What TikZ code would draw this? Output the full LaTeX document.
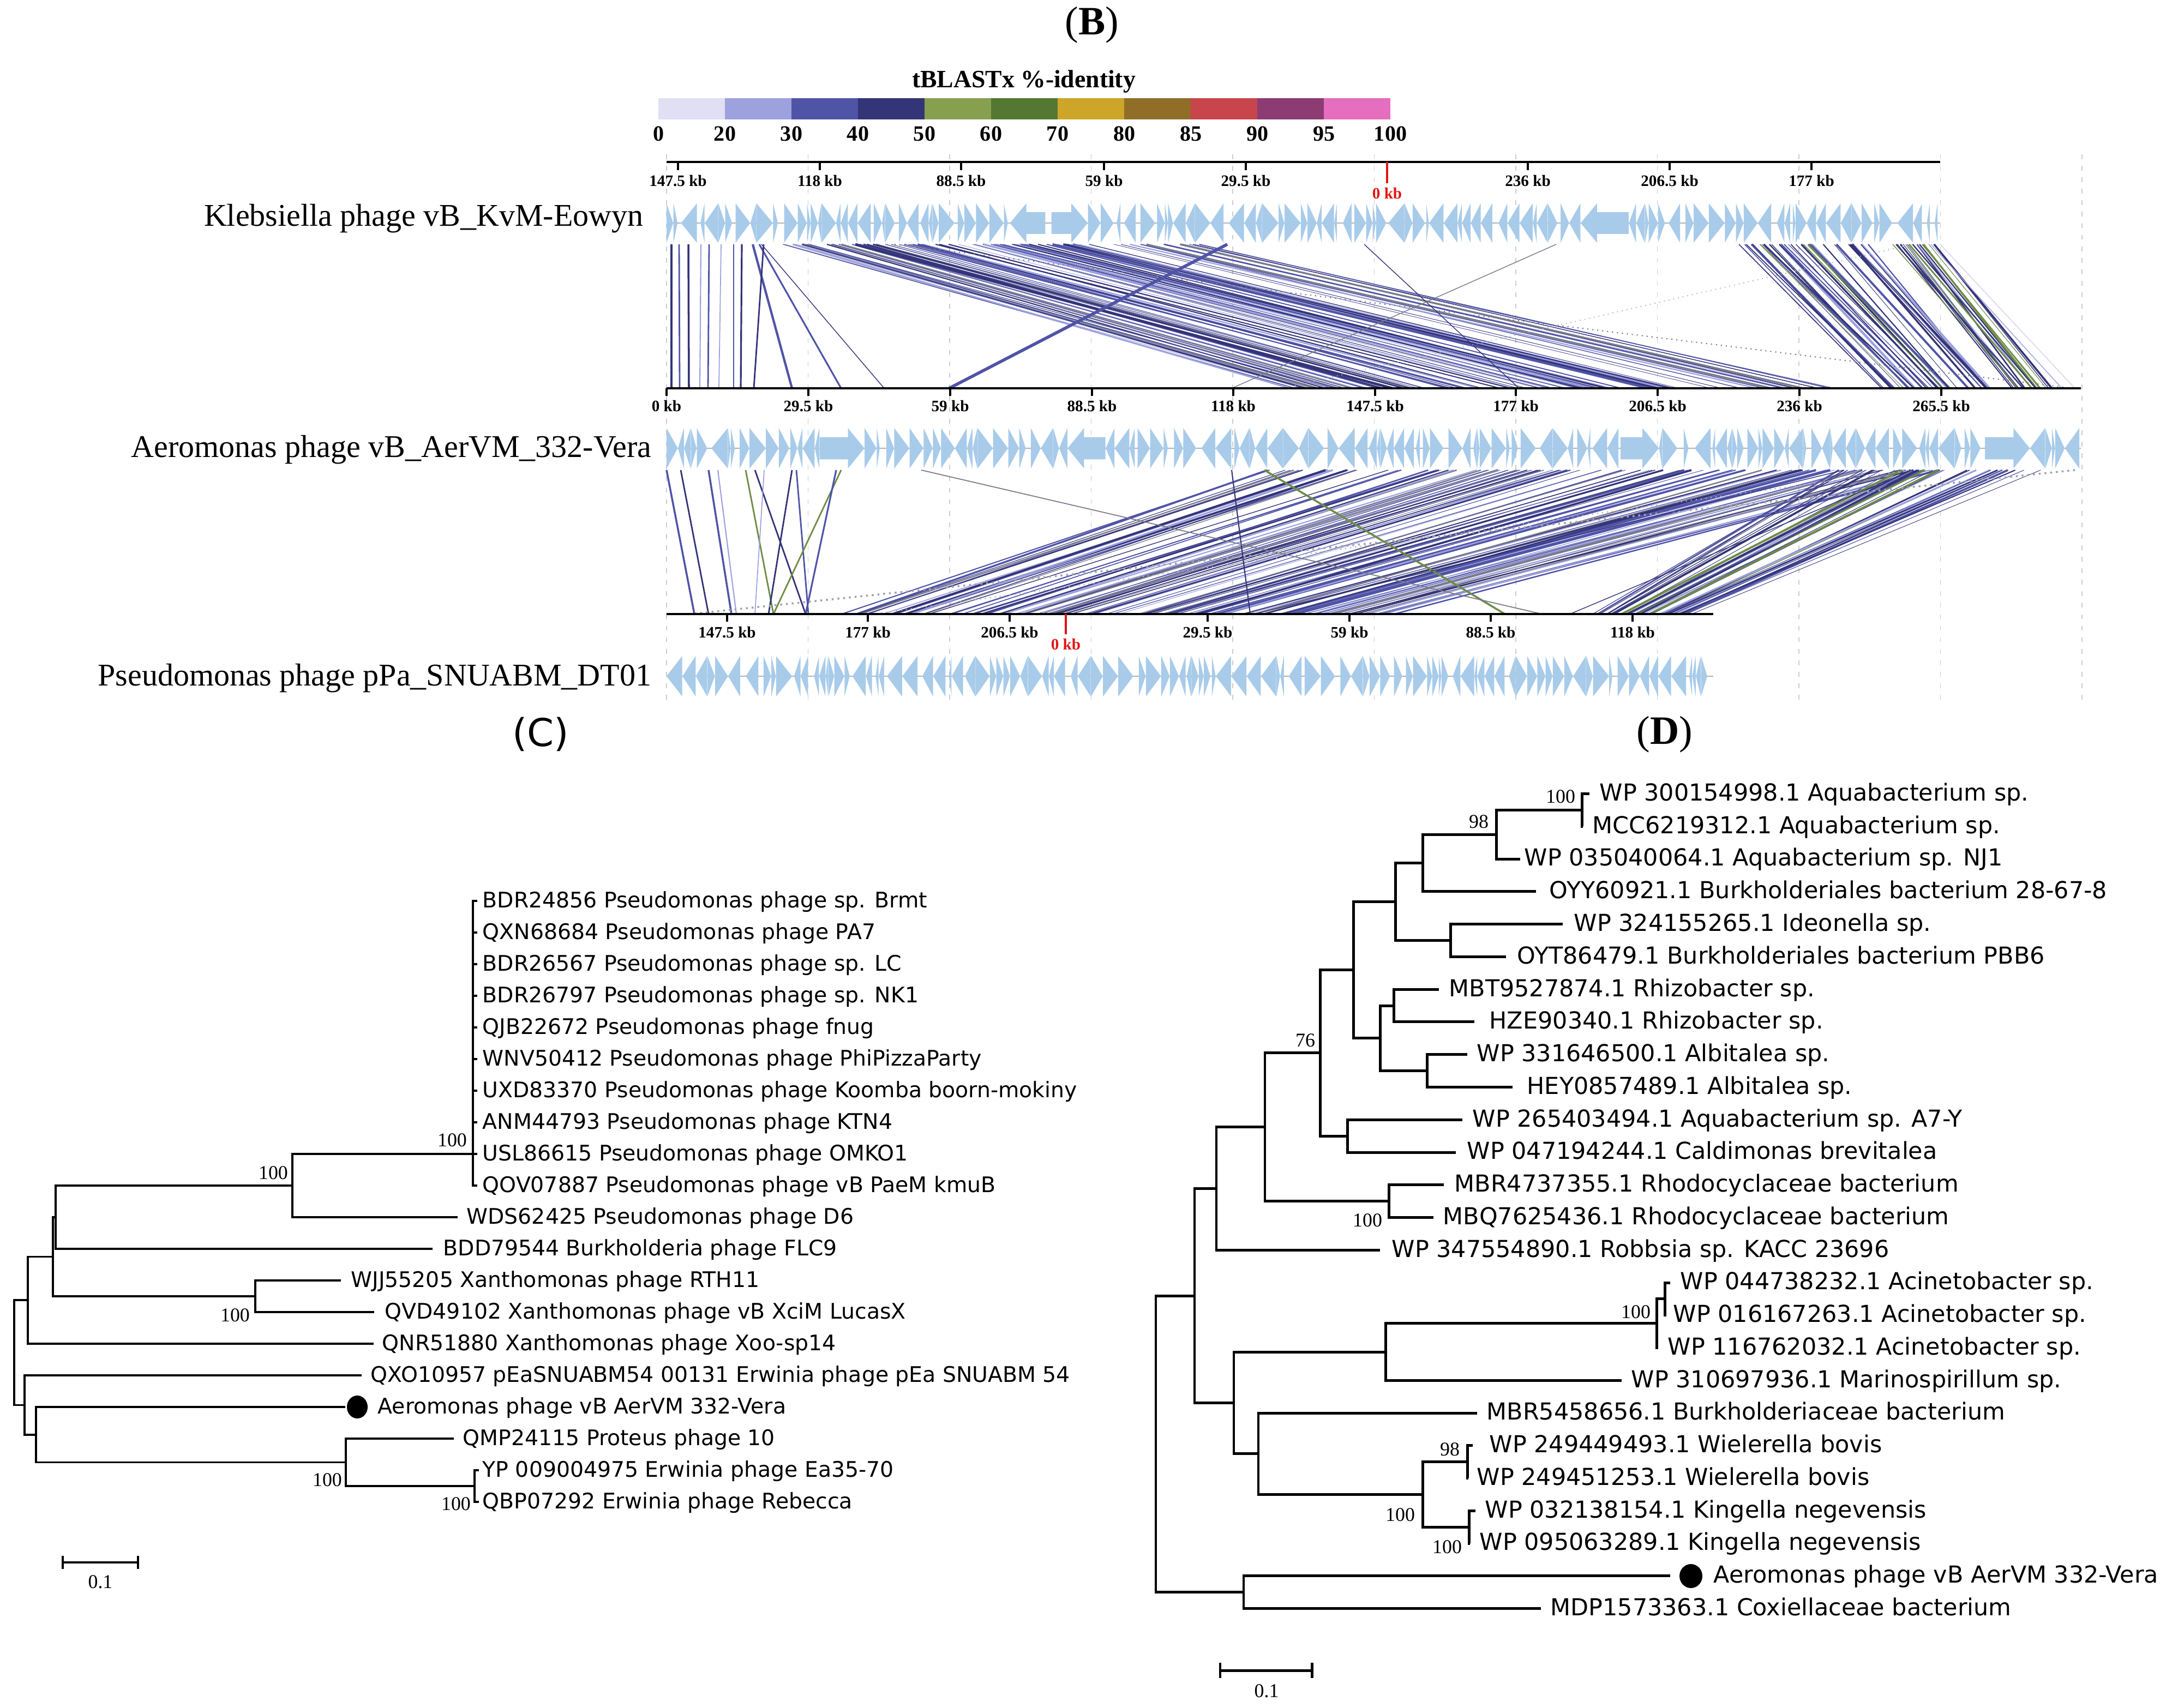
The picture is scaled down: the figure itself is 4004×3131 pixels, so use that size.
\documentclass[tikz,border=0pt]{standalone}
\usepackage{fontspec}
\usetikzlibrary{calc}
\setmainfont{Liberation Serif}
\newfontfamily\treefont{DejaVu Sans}
\definecolor{cb1}{RGB}{224,223,243}
\definecolor{cb2}{RGB}{157,161,222}
\definecolor{cb3}{RGB}{80,84,167}
\definecolor{cb4}{RGB}{52,52,120}
\definecolor{cb5}{RGB}{135,160,80}
\definecolor{cb6}{RGB}{84,120,50}
\definecolor{cb7}{RGB}{205,165,40}
\definecolor{cb8}{RGB}{145,110,40}
\definecolor{cb9}{RGB}{200,70,75}
\definecolor{cb10}{RGB}{140,60,115}
\definecolor{cb11}{RGB}{230,110,190}
\definecolor{genec}{RGB}{168,203,234}
\definecolor{kbred}{RGB}{228,20,20}
\definecolor{gridc}{RGB}{205,205,205}
\definecolor{rgray}{RGB}{120,122,140}
\definecolor{rgreen}{RGB}{110,140,70}
\pgfmathdeclarerandomlist{ribA}{{cb3}{cb3}{cb4}{cb2}{cb3}{cb4}{cb2}{rgray}}
\pgfmathdeclarerandomlist{ribB}{{cb3}{cb4}{cb4}{cb3}{rgreen}{cb2}{cb4}}
\newcommand\ribbons[9]{%
  \pgfmathsetseed{#1}%
  \foreach \rbK in {1,...,#2}{%
    \pgfmathsetmacro\rbR{rnd}%
    \pgfmathsetmacro\rbT{#5+\rbR*(#6-#5)}%
    \pgfmathsetmacro\rbB{#7+\rbR*(#8-#7)+(rnd-0.5)*#9}%
    \pgfmathsetmacro\rbW{0.25+1.2*rnd*rnd}%
    \pgfmathrandomitem{\rbC}{\riblist}%
    \draw[line width=\rbW pt, draw=\rbC] (\rbT,#3) -- (\rbB,#4);
  }%
}
\newcommand\genetrack[5]{%
  \pgfmathsetseed{#5}%
  \draw[genecore] (#1,#3) -- (#2,#3);
  \xdef\gnX{#1}%
  \xdef\gnD{1}%
  \loop
    \pgfmathsetmacro\gnW{4+26*rnd+((rnd<0.015)?60:0)}%
    \pgfmathsetmacro\gnE{\gnX+\gnW}%
  \ifdim\gnE pt<#2pt
    \pgfmathsetmacro\gnF{(rnd<0.35)?1:0}%
    \ifdim\gnF pt>0.5pt \pgfmathsetmacro\gnD{-1*\gnD}\xdef\gnD{\gnD}\fi
    \pgfmathsetmacro\gnA{min(\gnW,30)}%
    \ifdim\gnD pt>0pt
      \fill[genefill] (\gnX,#3-#4*0.55) -- (\gnE-\gnA,#3-#4*0.55) -- (\gnE-\gnA,#3-#4) -- (\gnE,#3) -- (\gnE-\gnA,#3+#4) -- (\gnE-\gnA,#3+#4*0.55) -- (\gnX,#3+#4*0.55) -- cycle;
    \else
      \fill[genefill] (\gnE,#3-#4*0.55) -- (\gnX+\gnA,#3-#4*0.55) -- (\gnX+\gnA,#3-#4) -- (\gnX,#3) -- (\gnX+\gnA,#3+#4) -- (\gnX+\gnA,#3+#4*0.55) -- (\gnE,#3+#4*0.55) -- cycle;
    \fi
    \pgfmathsetmacro\gnX{\gnE+((rnd<0.25)?(2+10*rnd):0.5)}\xdef\gnX{\gnX}%
  \repeat
}
\begin{document}
\begin{tikzpicture}[x=0.1mm,y=-0.1mm,
  brC/.style={line width=0.95pt},
  brD/.style={line width=1.4pt},
  leafC/.style={anchor=west, inner sep=0pt, font=\treefont\fontsize{11.2}{13}\selectfont, text height=0.73em, text depth=0pt},
  leafD/.style={anchor=west, inner sep=0pt, font=\treefont\fontsize{12.2}{14}\selectfont, text height=0.73em, text depth=0pt},
  boot/.style={inner sep=0pt, font=\fontsize{10.2}{12}\selectfont, text height=0.68em, text depth=0pt},
  kblab/.style={inner sep=0pt, font=\bfseries\fontsize{8.3}{10}\selectfont, text height=0.68em, text depth=0pt},
  cblab/.style={inner sep=0pt, font=\bfseries\fontsize{11.4}{13}\selectfont, text height=0.68em, text depth=0pt},
  gname/.style={anchor=east, inner sep=0pt, font=\fontsize{16.5}{19}\selectfont, text height=0.66em, text depth=0pt},
  panel/.style={inner sep=0pt, font=\fontsize{21}{24}\selectfont},
  axisline/.style={line width=1.2pt},
  tickline/.style={line width=0.9pt},
  gridline/.style={draw=gridc, line width=0.5pt, dash pattern=on 2.5pt off 3.5pt},
  genefill/.style={fill=genec},
  genecore/.style={draw=gray!60, line width=0.4pt},
]
\useasboundingbox (0,0) rectangle (4004,3131);
\fill[white] (0,0) rectangle (4004,3131);

% ---------------- Panel B ----------------
\node[panel] (tB) at (2002,46) {(\textbf{B})};
\node[inner sep=0pt, font=\bfseries\fontsize{13}{15}\selectfont, text height=0.68em, text depth=0pt] (cbt) at (1877,149) {tBLASTx \%-identity};
\foreach \k/\cbc in {0/cb1,1/cb2,2/cb3,3/cb4,4/cb5,5/cb6,6/cb7,7/cb8,8/cb9,9/cb10,10/cb11}
  \fill[\cbc] ({1207+122*\k},180) rectangle ({1207+122*(\k+1)},219);
\foreach \k/\lab in {0/0,1/20,2/30,3/40,4/50,5/60,6/70,7/80,8/85,9/90,10/95,11/100}
  \node[cblab] (cbl\k) at ({1207+122*\k},247) {\lab};

% grid lines
\foreach \k in {0,...,10}
  \draw[gridline] ({1222+259.5*\k},283) -- ({1222+259.5*\k},1285);

% ribbons row1 -> row2
\def\riblist{ribA}
\ribbons{11}{95}{448}{712}{1435}{2199}{2352}{3362}{60}
\def\riblist{ribB}
\ribbons{12}{55}{448}{712}{3184}{3557}{3455}{3761}{30}
\draw[cb4, line width=1.2pt] (1231,448) -- (1231,712);
\draw[cb3, line width=0.8pt] (1245,448) -- (1246,712);
\draw[cb4, line width=1.0pt] (1262,448) -- (1263,712);
\draw[cb2, line width=0.6pt] (1285,448) -- (1283,712);
\draw[cb3, line width=0.8pt] (1300,448) -- (1298,712);
\draw[cb2, line width=0.5pt] (1322,448) -- (1318,712);
\draw[cb3, line width=0.8pt] (1345,448) -- (1345,712);
\draw[cb4, line width=0.9pt] (1360,448) -- (1358,712);
\draw[cb3, line width=1.2pt] (1380,448) -- (1452,712);
\draw[cb3, line width=0.9pt] (1392,448) -- (1542,712);
\draw[cb4, line width=0.4pt] (1396,448) -- (1621,712);
\draw[cb4, line width=0.8pt] (1400,448) -- (1382,712);
\draw[cb3, line width=1.6pt] (2250,448) -- (1740,712);
\draw[cb4, line width=0.4pt] (2501,448) -- (2785,712);
\draw[rgray, line width=0.4pt] (2853,448) -- (2258,712);
\draw[rgray, line width=0.6pt, dotted] (1640,448) -- (3800,712);
\draw[rgray!60, line width=0.5pt, dotted] (3506,448) -- (2352,712);
\draw[cb1, line width=0.6pt] (3557,448) -- (3804,712);
\draw[cb2, line width=0.4pt] (3540,448) -- (3780,712);
\draw[rgreen, line width=0.8pt] (3500,448) -- (3725,712);
\draw[rgreen, line width=0.4pt] (3470,448) -- (3700,712);

% ribbons row2 -> row3
\def\riblist{ribA}
\ribbons{21}{110}{862}{1126}{2318}{3559}{1545}{2538}{50}
\def\riblist{ribB}
\ribbons{22}{45}{862}{1126}{3370}{3761}{2929}{3116}{25}
\draw[cb3, line width=1.0pt] (1222,862) -- (1273,1126);
\draw[cb4, line width=0.8pt] (1248,862) -- (1299,1126);
\draw[cb3, line width=1.0pt] (1299,862) -- (1341,1126);
\draw[cb2, line width=0.6pt] (1316,862) -- (1350,1126);
\draw[rgreen, line width=0.8pt] (1367,862) -- (1418,1126);
\draw[cb4, line width=0.8pt] (1384,862) -- (1477,1126);
\draw[cb4, line width=0.8pt] (1452,862) -- (1409,1126);
\draw[cb3, line width=0.8pt] (1460,862) -- (1482,1126);
\draw[rgreen, line width=0.8pt] (1542,862) -- (1418,1126);
\draw[cb3, line width=0.9pt] (1533,862) -- (1477,1126);
\draw[cb2, line width=0.5pt] (1401,862) -- (1384,1126);
\draw[cb4, line width=0.6pt] (2258,862) -- (2292,1126);
\draw[rgreen, line width=1.0pt] (2318,862) -- (2759,1126);
\draw[rgray, line width=0.5pt] (1689,862) -- (2827,1126);
\draw[rgray!70, line width=1pt, dotted] (3804,862) -- (1265,1126);
\draw[rgray!60, line width=0.6pt, dotted] (3500,862) -- (1600,1126);
\draw[cb4, line width=0.4pt] (3506,862) -- (2878,1126);
\draw[cb4, line width=0.4pt] (3380,862) -- (2300,1126);

% axes
\draw[axisline] (1222,297) -- (3557,297);
\foreach \x/\lab in {1243/147.5,1503/118,1762/88.5,2024/59,2284/29.5,2801/236,3061/206.5,3321/177}{
  \draw[tickline] (\x,297) -- (\x,312);
  \node[kblab] (ra\x) at (\x,330) {\lab\ kb};
}
\draw[kbred, line width=1.2pt] (2543,297) -- (2543,336);
\node[kblab, text=kbred] (razero) at (2543,353) {0 kb};

\draw[axisline] (1222,712) -- (3815,712);
\foreach \x/\lab in {1222/0,1482/29.5,1742/59,2002/88.5,2261/118,2521/147.5,2779/177,3039/206.5,3299/236,3559/265.5}{
  \draw[tickline] (\x,712) -- (\x,726);
  \node[kblab] (rb\x) at (\x,743) {\lab\ kb};
}

\draw[axisline] (1222,1126) -- (3141,1126);
\foreach \x/\lab in {1333/147.5,1591/177,1851/206.5,2214/29.5,2474/59,2733/88.5,2993/118}{
  \draw[tickline] (\x,1126) -- (\x,1140);
  \node[kblab] (rc\x) at (\x,1158) {\lab\ kb};
}
\draw[kbred, line width=1.2pt] (1954,1126) -- (1954,1163);
\node[kblab, text=kbred] (rczero) at (1954,1180) {0 kb};

% gene tracks
\genetrack{1222}{3557}{409}{36}{101}
\genetrack{1222}{3815}{822}{37}{202}
\genetrack{1222}{3141}{1240}{37}{303}

\node[gname] (g1) at (1180,403) {Klebsiella phage vB\_KvM-Eowyn};
\node[gname] (g2) at (1195,827) {Aeromonas phage vB\_AerVM\_332-Vera};
\node[gname] (g3) at (1195,1246) {Pseudomonas phage pPa\_SNUABM\_DT01};

% ---------------- Panel C ----------------
\node[panel, font=\treefont\fontsize{20}{24}\selectfont] (tC) at (991,1346) {(C)};
\foreach \i/\y in {0/1652,1/1710,2/1768,3/1826,4/1884,5/1942,6/2000,7/2058,8/2116,9/2174}
  \coordinate (c\i) at (875,\y);
\coordinate (c10) at (839,2232);
\coordinate (c11) at (793,2290);
\coordinate (c12) at (625,2348);
\coordinate (c13) at (686,2406);
\coordinate (c14) at (685,2464);
\coordinate (c15) at (663,2522);
\coordinate (c16) at (633,2580);
\coordinate (c17) at (832,2638);
\coordinate (c18) at (878,2696);
\coordinate (c19) at (878,2754);
\coordinate (nP) at (867,2116);
\coordinate (nQ) at (536,2174);
\coordinate (nR) at (102,2232);
\coordinate (nXa) at (468,2377);
\coordinate (nX) at (97,2304.5);
\coordinate (nY) at (51,2384);
\coordinate (nF) at (870,2725);
\coordinate (nE) at (634,2681.5);
\coordinate (nZb) at (66,2631);
\coordinate (nZ) at (45,2576.5);
\coordinate (nRoot) at (26,2480);
\foreach \i in {0,...,9} \draw[brC] (nP) |- (c\i);
\draw[brC] (nQ) |- (nP);
\draw[brC] (nQ) |- (c10);
\draw[brC] (nR) |- (nQ);
\draw[brC] (nR) |- (c11);
\draw[brC] (nX) |- (nR);
\draw[brC] (nX) |- (nXa);
\draw[brC] (nXa) |- (c12);
\draw[brC] (nXa) |- (c13);
\draw[brC] (nY) |- (nX);
\draw[brC] (nY) |- (c14);
\draw[brC] (nRoot) |- (nY);
\draw[brC] (nRoot) |- (nZ);
\draw[brC] (nZ) |- (c15);
\draw[brC] (nZ) |- (nZb);
\draw[brC] (nZb) |- (c16);
\draw[brC] (nZb) |- (nE);
\draw[brC] (nE) |- (c17);
\draw[brC] (nE) |- (nF);
\draw[brC] (nF) |- (c18);
\draw[brC] (nF) |- (c19);

\node[leafC] (lc0) at (884,1652) {BDR24856 Pseudomonas phage sp. Brmt};
\node[leafC] (lc1) at (884,1710) {QXN68684 Pseudomonas phage PA7};
\node[leafC] (lc2) at (884,1768) {BDR26567 Pseudomonas phage sp. LC};
\node[leafC] (lc3) at (884,1826) {BDR26797 Pseudomonas phage sp. NK1};
\node[leafC] (lc4) at (884,1884) {QJB22672 Pseudomonas phage fnug};
\node[leafC] (lc5) at (884,1942) {WNV50412 Pseudomonas phage PhiPizzaParty};
\node[leafC] (lc6) at (884,2000) {UXD83370 Pseudomonas phage Koomba boorn-mokiny};
\node[leafC] (lc7) at (884,2058) {ANM44793 Pseudomonas phage KTN4};
\node[leafC] (lc8) at (884,2116) {USL86615 Pseudomonas phage OMKO1};
\node[leafC] (lc9) at (884,2174) {QOV07887 Pseudomonas phage vB PaeM kmuB};
\node[leafC] (lc10) at (855,2232) {WDS62425 Pseudomonas phage D6};
\node[leafC] (lc11) at (812,2290) {BDD79544 Burkholderia phage FLC9};
\node[leafC] (lc12) at (643,2348) {WJJ55205 Xanthomonas phage RTH11};
\node[leafC] (lc13) at (705,2406) {QVD49102 Xanthomonas phage vB XciM LucasX};
\node[leafC] (lc14) at (700,2464) {QNR51880 Xanthomonas phage Xoo-sp14};
\node[leafC] (lc15) at (679,2522) {QXO10957 pEaSNUABM54 00131 Erwinia phage pEa SNUABM 54};
\node[leafC] (lc16) at (692,2580) {Aeromonas phage vB AerVM 332-Vera};
\node[leafC] (lc17) at (848,2638) {QMP24115 Proteus phage 10};
\node[leafC] (lc18) at (884,2696) {YP 009004975 Erwinia phage Ea35-70};
\node[leafC] (lc19) at (884,2754) {QBP07292 Erwinia phage Rebecca};
\fill (655,2580) ellipse [x radius=1.9mm, y radius=2.1mm];

\node[boot] (bc1) at (829,2091) {100};
\node[boot] (bc2) at (501,2151) {100};
\node[boot] (bc3) at (431,2411) {100};
\node[boot] (bc4) at (600,2713) {100};
\node[boot] (bc5) at (836,2757) {100};

\coordinate (sc1) at (115,2865);
\coordinate (sc2) at (253,2865);
\draw[brC] (sc1) -- (sc2);
\draw[brC] ($(sc1)+(0,-12)$) -- ($(sc1)+(0,12)$);
\draw[brC] ($(sc2)+(0,-12)$) -- ($(sc2)+(0,12)$);
\node[boot] (scl) at (184,2900) {0.1};

% ---------------- Panel D ----------------
\node[panel] (tD) at (3052,1347) {(\textbf{D})};
\coordinate (d0) at (2914,1455.6);
\coordinate (d1) at (2902,1515.4);
\coordinate (d2) at (2787,1575.1);
\coordinate (d3) at (2816,1634.9);
\coordinate (d4) at (2865,1694.6);
\coordinate (d5) at (2761,1754.4);
\coordinate (d6) at (2638,1814.2);
\coordinate (d7) at (2703,1873.9);
\coordinate (d8) at (2690,1933.7);
\coordinate (d9) at (2773,1993.4);
\coordinate (d10) at (2681,2053.2);
\coordinate (d11) at (2669,2113.0);
\coordinate (d12) at (2647,2172.7);
\coordinate (d13) at (2628,2232.5);
\coordinate (d14) at (2530,2292.2);
\coordinate (d15) at (3062,2352.0);
\coordinate (d16) at (3055,2411.8);
\coordinate (d17) at (3040,2471.5);
\coordinate (d18) at (2973,2531.3);
\coordinate (d19) at (2708,2591.0);
\coordinate (d20) at (2700,2650.8);
\coordinate (d21) at (2692,2710.6);
\coordinate (d22) at (2705,2770.3);
\coordinate (d23) at (2695,2830.1);
\coordinate (d24) at (3062,2889.8);
\coordinate (d25) at (2825,2949.6);
\coordinate (A) at (2900,1485.5);
\coordinate (B) at (2743,1530.3);
\coordinate (C) at (2608,1582.6);
\coordinate (D) at (2659,1724.5);
\coordinate (E) at (2558,1653.6);
\coordinate (F) at (2555,1844.1);
\coordinate (G) at (2616,1963.6);
\coordinate (H) at (2530,1903.8);
\coordinate (I) at (2481,1778.7);
\coordinate (J) at (2470,2083.1);
\coordinate (K) at (2420,1930.9);
\coordinate (L) at (2546,2202.6);
\coordinate (M) at (2319,2066.8);
\coordinate (N) at (2230,2179.5);
\coordinate (P1) at (3052,2381.9);
\coordinate (P) at (3037,2426.7);
\coordinate (Q) at (2540,2479.0);
\coordinate (S) at (2690,2680.7);
\coordinate (T) at (2693,2800.2);
\coordinate (U) at (2608,2740.5);
\coordinate (V) at (2307,2665.7);
\coordinate (R) at (2262,2572.4);
\coordinate (O) at (2190,2376.0);
\coordinate (X) at (2280,2919.7);
\coordinate (W) at (2119,2647.9);
\foreach \p/\q in {A/d0,A/d1,B/A,B/d2,C/B,C/d3,D/d4,D/d5,E/C,E/D,F/d6,F/d7,G/d8,G/d9,H/F,H/G,I/E,I/H,J/d10,J/d11,K/I,K/J,L/d12,L/d13,M/K,M/L,N/M,N/d14,P1/d15,P1/d16,P/P1,P/d17,Q/P,Q/d18,S/d20,S/d21,T/d22,T/d23,U/S,U/T,V/d19,V/U,R/Q,R/V,O/N,O/R,X/d24,X/d25,W/O,W/X}
  \draw[brD] (\p) |- (\q);

\node[leafD] (ld0) at (2932,1455.6) {WP 300154998.1 Aquabacterium sp.};
\node[leafD] (ld1) at (2919,1515.4) {MCC6219312.1 Aquabacterium sp.};
\node[leafD] (ld2) at (2794,1575.1) {WP 035040064.1 Aquabacterium sp. NJ1};
\node[leafD] (ld3) at (2840,1634.9) {OYY60921.1 Burkholderiales bacterium 28-67-8};
\node[leafD] (ld4) at (2885,1694.6) {WP 324155265.1 Ideonella sp.};
\node[leafD] (ld5) at (2781,1754.4) {OYT86479.1 Burkholderiales bacterium PBB6};
\node[leafD] (ld6) at (2656,1814.2) {MBT9527874.1 Rhizobacter sp.};
\node[leafD] (ld7) at (2730,1873.9) {HZE90340.1 Rhizobacter sp.};
\node[leafD] (ld8) at (2707,1933.7) {WP 331646500.1 Albitalea sp.};
\node[leafD] (ld9) at (2799,1993.4) {HEY0857489.1 Albitalea sp.};
\node[leafD] (ld10) at (2699,2053.2) {WP 265403494.1 Aquabacterium sp. A7-Y};
\node[leafD] (ld11) at (2689,2113.0) {WP 047194244.1 Caldimonas brevitalea};
\node[leafD] (ld12) at (2666,2172.7) {MBR4737355.1 Rhodocyclaceae bacterium};
\node[leafD] (ld13) at (2645,2232.5) {MBQ7625436.1 Rhodocyclaceae bacterium};
\node[leafD] (ld14) at (2551,2292.2) {WP 347554890.1 Robbsia sp. KACC 23696};
\node[leafD] (ld15) at (3080,2352.0) {WP 044738232.1 Acinetobacter sp.};
\node[leafD] (ld16) at (3067,2411.8) {WP 016167263.1 Acinetobacter sp.};
\node[leafD] (ld17) at (3057,2471.5) {WP 116762032.1 Acinetobacter sp.};
\node[leafD] (ld18) at (2990,2531.3) {WP 310697936.1 Marinospirillum sp.};
\node[leafD] (ld19) at (2725,2591.0) {MBR5458656.1 Burkholderiaceae bacterium};
\node[leafD] (ld20) at (2730,2650.8) {WP 249449493.1 Wielerella bovis};
\node[leafD] (ld21) at (2707,2710.6) {WP 249451253.1 Wielerella bovis};
\node[leafD] (ld22) at (2722,2770.3) {WP 032138154.1 Kingella negevensis};
\node[leafD] (ld23) at (2712,2830.1) {WP 095063289.1 Kingella negevensis};
\node[leafD] (ld24) at (3141,2889.8) {Aeromonas phage vB AerVM 332-Vera};
\node[leafD] (ld25) at (2842,2949.6) {MDP1573363.1 Coxiellaceae bacterium};
\fill (3100,2890) ellipse [x radius=2.1mm, y radius=2.2mm];

\node[boot] (bd1) at (2861,1461) {100};
\node[boot] (bd2) at (2711,1507) {98};
\node[boot] (bd3) at (2393,1908) {76};
\node[boot] (bd4) at (2507,2238) {100};
\node[boot] (bd5) at (2999,2406) {100};
\node[boot] (bd6) at (2658,2657) {98};
\node[boot] (bd7) at (2567,2777) {100};
\node[boot] (bd8) at (2653,2836) {100};

\coordinate (sd1) at (2237,3063);
\coordinate (sd2) at (2405,3063);
\draw[brD] (sd1) -- (sd2);
\draw[brD] ($(sd1)+(0,-14)$) -- ($(sd1)+(0,14)$);
\draw[brD] ($(sd2)+(0,-14)$) -- ($(sd2)+(0,14)$);
\node[boot] (sdl) at (2322,3100) {0.1};
\end{tikzpicture}
\end{document}
